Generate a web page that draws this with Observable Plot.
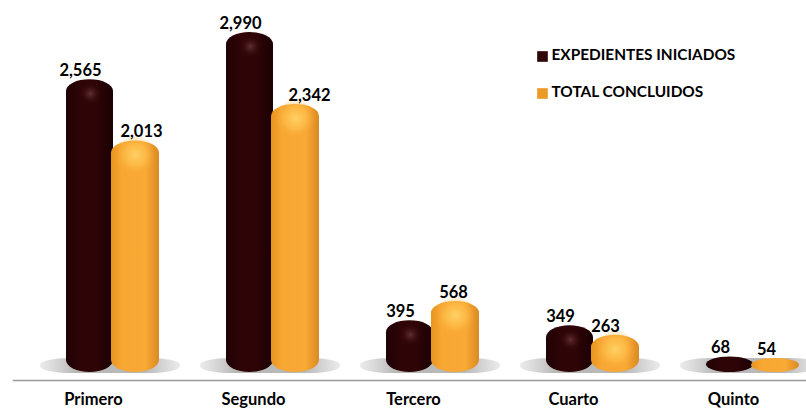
<!DOCTYPE html>
<html><head><meta charset="utf-8">
<script src="https://cdn.jsdelivr.net/npm/d3@7"></script>
<script src="https://cdn.jsdelivr.net/npm/@observablehq/plot@0.6"></script>
<style>
html,body{margin:0;padding:0;background:#fff}
svg{display:block}
g[aria-label="floor shadow"]{filter:blur(5px)}
g[aria-label="gloss"]{filter:blur(2px)}
</style></head><body><div id="chart"></div>
<script>
const categories = ["Primero","Segundo","Tercero","Cuarto","Quinto"];
const iniciados = [2565,2990,395,349,68];
const concluidos = [2013,2342,568,263,54];
const seriesNames = ["EXPEDIENTES INICIADOS","TOTAL CONCLUIDOS"];
const concludedLabelNudge = [29,37,21,13,14];

const fontFamily = "Lato, 'Open Sans', sans-serif";
const rowsA = categories.map((c,i)=>({c,v:iniciados[i]}));
const rowsB = categories.map((c,i)=>({c,v:concluidos[i]}));

function stops(g,list){list.forEach(([o,col,op])=>{const s=g.append("stop").attr("offset",o).attr("stop-color",col);if(op!=null)s.attr("stop-opacity",op);});}
const defsMark = ()=>{
  const d=d3.create("svg:defs");
  stops(d.append("linearGradient").attr("id","gDark"),[["0%","#1f0205"],["30%","#2e0407"],["65%","#2e0407"],["100%","#1a0103"]]);
  stops(d.append("linearGradient").attr("id","gOrange"),[["0%","#e8941f"],["22%","#f8a733"],["72%","#f9a935"],["100%","#d98a22"]]);
  stops(d.append("radialGradient").attr("id","glowDark"),[["0%","#6e3a3c",0.8],["50%","#4a1a1d",0.45],["100%","#2e0407",0]]);
  stops(d.append("radialGradient").attr("id","glowOrange"),[["0%","#ffd468",0.95],["55%","#ffc24f",0.6],["100%","#f9a935",0]]);
  stops(d.append("linearGradient").attr("id","gShadow"),[["0%","#d4d4d4",0.5],["25%","#b8b8b8",1],["75%","#b8b8b8",1],["100%","#d4d4d4",0.5]]);
  return d.node();
};

const labelStyle = {fontFamily,fontWeight:700,fontSize:16.5,fill:"#000"};
const legendText = {frameAnchor:"top-left",textAnchor:"start",fontFamily,fontWeight:700,fontSize:15.4,fill:"#000"};

const chart = Plot.plot({
  width:806,height:409,
  marginTop:0,marginRight:0,marginBottom:29,marginLeft:13,
  style:{background:"#fff",overflow:"hidden"},
  x:{type:"band",domain:categories,range:[32,832],padding:0,label:null},
  y:{domain:[0,2990],range:[364,32],axis:null},
  marks:[
    defsMark,
    Plot.barY(categories,{x:d=>d,y1:0,y2:0,insetLeft:8,insetRight:12,insetTop:-6,insetBottom:-9,rx:30,ry:7,fill:"url(#gShadow)",ariaLabel:"floor shadow"}),
    Plot.frame({anchor:"bottom",stroke:"#9a9a9a",strokeWidth:1.5}),
    Plot.axisX({anchor:"bottom",tickSize:0,tickPadding:13,dx:-19,fontFamily,fontWeight:700,fontSize:16.5,fill:"#000",label:null}),
    Plot.barY(rowsA,{x:"c",y:"v",insetLeft:34,insetRight:79,insetBottom:-8,rx:24,ry:12,fill:"url(#gDark)"}),
    Plot.barY(rowsB,{x:"c",y:"v",insetLeft:79,insetRight:33,insetBottom:-8,rx:24,ry:12,fill:"url(#gOrange)"}),
    Plot.dot(rowsA.filter(d=>d.v>100),{x:"c",y:"v",dx:-22,dy:14,r:12,fill:"url(#glowDark)",ariaLabel:"gloss"}),
    Plot.dot(rowsB.filter(d=>d.v>100),{x:"c",y:"v",dx:23,dy:14,r:20,fill:"url(#glowOrange)",ariaLabel:"gloss"}),
    Plot.text(rowsA,{x:"c",y:"v",text:d=>d3.format(",")(d.v),dx:-32,dy:-9,...labelStyle}),
    ...rowsB.map((d,i)=>Plot.text([d],{x:"c",y:"v",text:r=>d3.format(",")(r.v),dx:concludedLabelNudge[i],dy:-9,...labelStyle})),
    Plot.dot([seriesNames[0]],{frameAnchor:"top-left",dx:529,dy:56,symbol:"square",r:6,fill:"#2e0407"}),
    Plot.dot([seriesNames[1]],{frameAnchor:"top-left",dx:529,dy:93,symbol:"square",r:6,fill:"#eb9a28"}),
    Plot.text([seriesNames[0]],{text:d=>d,dx:538,dy:49,...legendText}),
    Plot.text([seriesNames[1]],{text:d=>d,dx:538,dy:86,...legendText})
  ]
});
document.getElementById("chart").append(chart);
</script></body></html>
